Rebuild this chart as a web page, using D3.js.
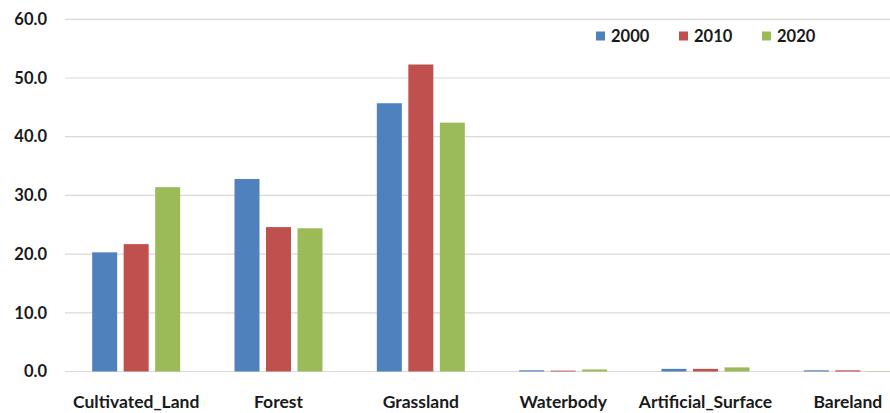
<!DOCTYPE html>
<html>
<head>
<meta charset="utf-8">
<script src="https://cdn.jsdelivr.net/npm/d3@7"></script>
<style>
  html, body { margin: 0; padding: 0; background: #fff; }
  svg { display: block; }
  text { font-family: Lato, "Open Sans", sans-serif; font-weight: bold; fill: #1a1a1a; }
</style>
</head>
<body>
<svg id="chart" width="890" height="413"></svg>
<script>
// Land cover share (%) by class and year
const categories = ["Cultivated_Land", "Forest", "Grassland", "Waterbody", "Artificial_Surface", "Bareland"];
const years = ["2000", "2010", "2020"];
const values2000 = [20.3, 32.8, 45.7, 0.2, 0.45, 0.2];
const values2010 = [21.7, 24.6, 52.3, 0.15, 0.45, 0.2];
const values2020 = [31.4, 24.4, 42.4, 0.35, 0.7, 0.05];
const yTicks = [0, 10, 20, 30, 40, 50, 60];
const colors = ["#4F81BD", "#C0504D", "#9BBB59"];

const series = [values2000, values2010, values2020];

const svg = d3.select("#chart");

const x = d3.scaleBand().domain(categories).range([65, 919]).paddingInner(0).paddingOuter(0);
const y = d3.scaleLinear().domain([0, 60]).range([371.5, 19.3]);

// Inner band for the three years within each category
const barW = 25, barStep = 31.5;
const groupW = barStep * 2 + barW;
const xs = d3.scaleBand().domain(years).range([0, groupW]).paddingInner((barStep - barW) / barStep);

// Gridlines
const grid = svg.append("g");
grid.selectAll("line").data(yTicks).join("line")
  .attr("x1", 65).attr("x2", 890)
  .attr("y1", d => y(d)).attr("y2", d => y(d))
  .attr("stroke", "#d9d9d9").attr("stroke-width", 1.2);

// Y axis labels
const yAxis = d3.axisLeft(y).tickValues(yTicks).tickFormat(d3.format(".1f")).tickSize(0).tickPadding(0);
const ya = svg.append("g").attr("transform", "translate(47,0)").call(yAxis);
ya.select(".domain").remove();
ya.selectAll("text").attr("font-size", 16.5).attr("fill", "#1a1a1a")
  .style("font-family", "Lato, 'Open Sans', sans-serif").style("font-weight", "bold");

// Bars
const groups = svg.append("g").selectAll("g").data(categories).join("g")
  .attr("transform", d => `translate(${x(d) + x.bandwidth() / 2 - groupW / 2},0)`);

groups.selectAll("rect")
  .data((d, i) => years.map((yr, j) => ({ yr, v: series[j][i], c: colors[j] })))
  .join("rect")
  .attr("x", d => xs(d.yr))
  .attr("width", xs.bandwidth())
  .attr("y", d => y(d.v))
  .attr("height", d => y(0) - y(d.v))
  .attr("fill", d => d.c);

// Category labels
const xAxis = d3.axisBottom(x).tickSize(0).tickPadding(0);
const xa = svg.append("g").attr("transform", "translate(0,396)").call(xAxis);
xa.select(".domain").remove();
xa.selectAll("text").attr("font-size", 17.5).attr("fill", "#1a1a1a").attr("dy", "0.35em").attr("y", 6)
  .style("font-family", "Lato, 'Open Sans', sans-serif").style("font-weight", "bold");

// Legend
const legendX = [596, 679, 762];
const legend = svg.append("g").selectAll("g").data(years).join("g")
  .attr("transform", (d, i) => `translate(${legendX[i]},36)`);
legend.append("rect").attr("x", 0).attr("y", -4.5).attr("width", 9).attr("height", 9)
  .attr("fill", (d, i) => colors[i]);
legend.append("text").attr("x", 15).attr("dy", "0.35em").attr("font-size", 16.5).text(d => d);
</script>
</body>
</html>
